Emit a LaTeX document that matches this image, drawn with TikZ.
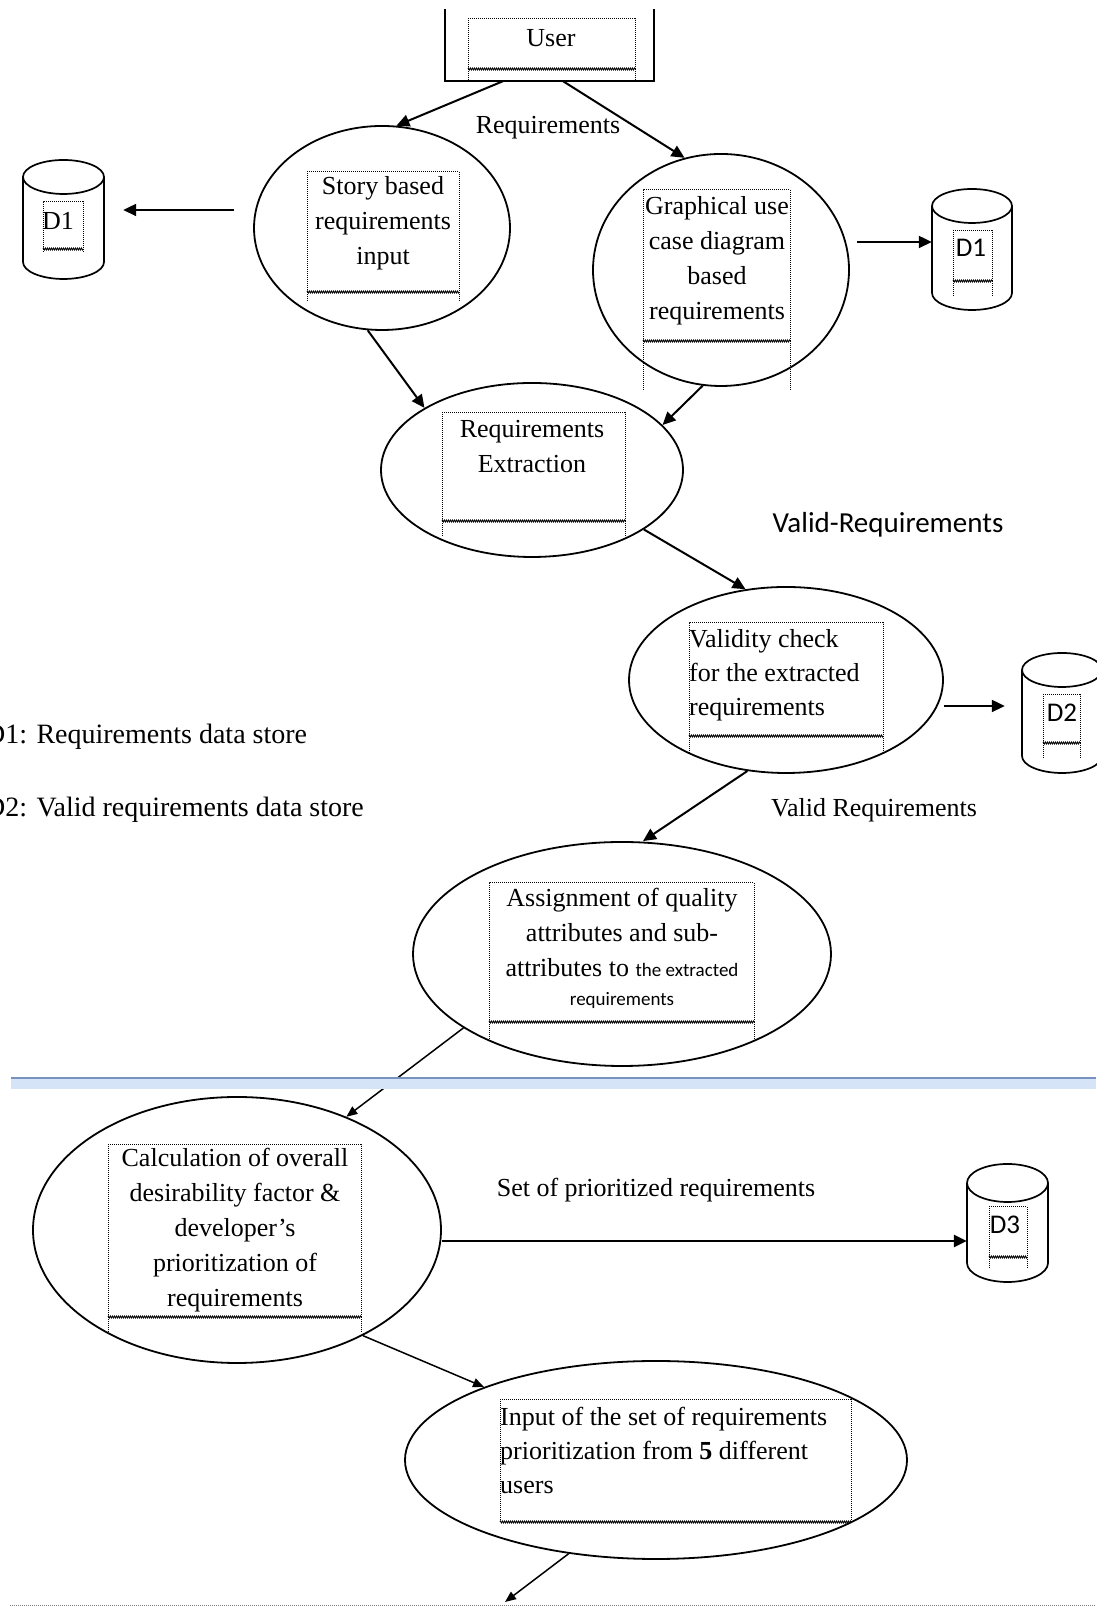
\documentclass[tikz,border=0pt]{standalone}
\usepackage{fontspec}
\setmainfont{Liberation Serif}
\newfontfamily\calibri{Carlito}
\usetikzlibrary{shapes.geometric,arrows.meta,decorations.pathmorphing,calc}

\definecolor{rulelight}{RGB}{214,228,248}
\definecolor{ruledark}{RGB}{118,146,190}

% dotted text frame: x1, x2, top, wavy bottom, end of side lines
\newcommand{\txtframe}[5]{%
  \draw[frameline] (#1,#4) -- (#1,#3) -- (#2,#3) -- (#2,#4);
  \draw[waveline] (#1,#4) -- (#2,#4);
  \draw[frameline] (#1,#4) -- (#1,#5) (#2,#4) -- (#2,#5);
}
% data store: name, centre x, top, bottom, x radius, y radius
\newcommand{\dbstore}[6]{%
  \node[inner sep=0pt, minimum width={2*#5}, minimum height={#3-#4}] (#1) at ({#2},{(#3+#4)/2}) {};
  \draw[line width=1.7pt] ({#2-#5},{#3-#6}) -- ({#2-#5},{#4+#6})
    arc[start angle=180, end angle=360, x radius=#5, y radius=#6] -- ({#2+#5},{#3-#6});
  \draw[line width=1.7pt] ({#2},{#3-#6}) ellipse[x radius=#5, y radius=#6];
}

\begin{document}
\begin{tikzpicture}[x=1pt, y=1pt,
  proc/.style={ellipse, draw, line width=1.8pt, inner sep=0pt},
  txt/.style={font=\fontsize{26}{35}\selectfont, align=center, inner sep=0pt},
  ltxt/.style={font=\fontsize{26}{34}\selectfont, align=left, inner sep=0pt, anchor=west},
  legend/.style={font=\fontsize{28}{34}\selectfont, inner sep=0pt, anchor=west},
  sanslbl/.style={font=\calibri\fontsize{27}{33}\selectfont, inner sep=0pt},
  flow/.style={line width=2pt, -{Triangle[length=13pt,width=12pt]}},
  thinflow/.style={line width=1.5pt, -{Triangle[length=11pt,width=9pt]}},
  frameline/.style={line width=1pt, dash pattern=on 1pt off 1pt},
  waveline/.style={line width=0.8pt, decorate, decoration={zigzag, segment length=2pt, amplitude=1pt}}
]
\useasboundingbox (0,0) rectangle (1096,1608);

% user
\node[inner sep=0pt, minimum width=209, minimum height=72] (user) at (549.5,1563) {};
\draw[line width=1.8pt] (user.north west) |- (user.south east) -- (user.north east);
\txtframe{468}{635}{1589}{1539}{1528}
\node[txt] (usertxt) at (551,1570) {User};
\node[txt] (reqlbl) at (548,1480) {Requirements};

% processes
\node[proc, minimum width=256, minimum height=204] (story) at (382,1380) {};
\node[proc, minimum width=256, minimum height=232] (graph) at (721,1338) {};
\node[proc, minimum width=302, minimum height=174] (extract) at (532,1138) {};
\node[proc, minimum width=314, minimum height=186] (valid) at (786,928) {};
\node[proc, minimum width=418, minimum height=224] (assign) at (622,654) {};
\node[proc, minimum width=408, minimum height=266] (calc) at (237,378) {};
\node[proc, minimum width=502, minimum height=198] (input) at (656,148) {};

% data stores
\dbstore{storeA}{63.5}{1448}{1329}{40.5}{17}
\dbstore{storeB}{972}{1419}{1298}{40}{17}
\dbstore{storeC}{1062}{955}{835}{40}{17}
\dbstore{storeD}{1007.5}{444}{326}{40.5}{19}

% frames
\txtframe{307}{459}{1436}{1316}{1306}
\txtframe{643}{790}{1418}{1267}{1218}
\txtframe{442}{625}{1195}{1087}{1071}
\txtframe{689}{883}{985}{872}{855}
\txtframe{489}{754}{725}{586}{568}
\txtframe{108}{361}{463}{291}{275}
\txtframe{500}{851}{208}{86}{86}
\txtframe{43}{83}{1406}{1359}{1356}
\txtframe{953}{992}{1377}{1327}{1312}
\txtframe{1043}{1080}{913}{865}{850}
\txtframe{989}{1027}{401}{351}{340}

% texts
\node[txt] (storytxt) at (383,1385) {Story based\\requirements\\input};
\node[txt] (graphtxt) at (717,1347) {Graphical use\\case diagram\\based\\requirements};
\node[txt] (extracttxt) at (532,1161) {Requirements\\Extraction};
\node[ltxt] (validtxt) at (689,933) {Validity check\\for the extracted\\requirements};
\node[txt] (assigntxt) at (622,660) {Assignment of quality\\attributes and sub-\\attributes to {\calibri\fontsize{19}{23}\selectfont the extracted}\\[-6pt]{\calibri\fontsize{19}{23}\selectfont requirements}};
\node[txt] (calctxt) at (235,378) {Calculation of overall\\desirability factor \&\\developer’s\\prioritization of\\requirements};
\node[ltxt] (inputtxt) at (500,158) {Input of the set of requirements\\prioritization from \textbf{5} different\\users};

\node[txt] (d1a) at (58,1387) {D1};
\node[sanslbl] (d1b) at (971,1360) {D1};
\node[sanslbl] (d2) at (1062,895) {D2};
\node[sanslbl] (d3) at (1005,383) {D3};

\node[legend] (legendA) at (-15,871) {D1: Requirements data store};
\node[legend] (legendB) at (-15,798) {D2: Valid requirements data store};
\node[font=\calibri\fontsize{29}{35}\selectfont, inner sep=0pt] (validdash) at (888,1083) {Valid-Requirements};
\node[txt] (validlbl) at (874,798) {Valid Requirements};
\node[txt] (setlbl) at (656,418) {Set of prioritized requirements};

% flows
\draw[flow] ([xshift=-46.5pt]user.south) -- (story.82);
\draw[flow] ([xshift=13.5pt]user.south) -- (graph.108);
\draw[flow, shorten <=19pt, shorten >=19pt] ([yshift=18pt]story.west) -- ([yshift=18pt]story.west -| storeA.east);
\draw[flow, shorten <=7pt] ([yshift=28pt]graph.east) -- ([yshift=28pt]graph.east -| storeB.west);
\draw[flow] (story.262) -- (extract.150);
\draw[flow] (graph.261) -- (extract.19);
\draw[flow] (extract.-28) -- (valid.114);
\draw[flow, shorten >=17pt] ([yshift=-26pt]valid.east) -- ([yshift=-26pt]valid.east -| storeC.west);
\draw[flow] (valid.247) -- ([xshift=21pt]assign.north);
\draw[thinflow] (assign.205) -- (calc.46);
\draw[flow, line width=2.8pt] ([yshift=-11pt]calc.east) -- ([yshift=-11pt]calc.east -| storeD.west);
\draw[thinflow] (calc.-40) -- (input.157);
\coordinate (exitpt) at (505,6);
\draw[thinflow] (input.227) -- (exitpt);

% page rule and bottom line
\fill[rulelight] (11,519) rectangle (1096,529);
\draw[ruledark, line width=2pt] (11,530) -- (1096,530);
\draw[gray, line width=1pt, dash pattern=on 1pt off 1pt] (10,2) -- (1096,2);
\end{tikzpicture}
\end{document}
